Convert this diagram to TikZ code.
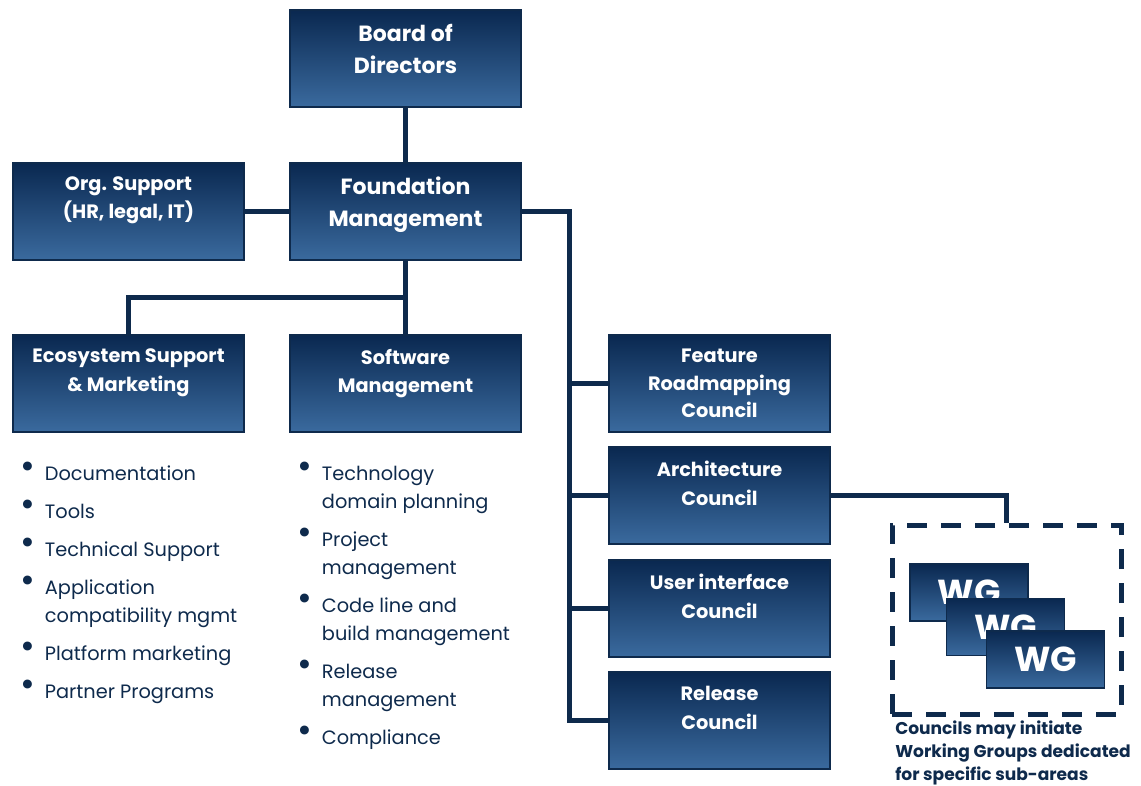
\documentclass[tikz,border=0pt]{standalone}
\usepackage{fontspec}
\setmainfont{Poppins}
\usetikzlibrary{positioning}
\definecolor{navy}{HTML}{0E2A4C}
\definecolor{boxtop}{HTML}{0A2850}
\definecolor{boxbot}{HTML}{3A6A9E}
\newcommand{\bul}{\makebox[17pt][l]{\hspace*{-1pt}\smash{\raisebox{1.5pt}{\fontsize{27}{0}\selectfont\textbullet}}}}
\newcommand{\ind}{\hspace*{17pt}}

\begin{document}
\begin{tikzpicture}[x=0.75pt,y=-0.75pt,
	orgbox/.style={rectangle,draw=navy,line width=1.2pt,top color=boxtop,bottom color=boxbot,minimum width=173.25pt,minimum height=72.75pt,inner sep=0pt},
	council/.style={orgbox,minimum width=165.75pt},
	wgbox/.style={orgbox,minimum width=88.5pt,minimum height=42.75pt,text=white,font=\fontsize{26}{26}\selectfont\bfseries},
	boxtext/.style={anchor=north,yshift=-11pt,inner sep=0pt,text=white,align=center,font=\fontsize{14.5}{22}\selectfont\bfseries},
	link/.style={draw=navy,line width=3.75pt},
	listtext/.style={anchor=north west,inner sep=0pt,align=left,text=navy,font=\fontsize{14.5}{21}\selectfont}]
	\useasboundingbox (0,0) rectangle (1141,785);
	% top of the tree
	\node[orgbox, label={[boxtext,font=\fontsize{16.5}{24}\selectfont\bfseries]north:{Board of\\Directors}}] (board) at (405.5,58.5) {};
	\node[orgbox, label={[boxtext,font=\fontsize{16.5}{24}\selectfont\bfseries]north:{Foundation\\Management}}] (found) at (405.5,211.5) {};
	\node[orgbox, label={[boxtext,font=\fontsize{14.5}{21}\selectfont\bfseries]north:{Org. Support\\(HR, legal, IT)}}] (org) at (128.5,211.5) {};
	\node[orgbox, label={[boxtext,font=\fontsize{14.5}{21.5}\selectfont\bfseries]north:{Ecosystem Support\\\& Marketing}}] (eco) at (128.5,383.5) {};
	\node[orgbox, label={[boxtext,font=\fontsize{14.5}{21.5}\selectfont\bfseries]north:{Software\\Management}}] (soft) at (405.5,383.5) {};
	% councils
	\node[council, label={[boxtext,font=\fontsize{14.5}{20.5}\selectfont\bfseries]north:{Feature\\Roadmapping\\Council}}] (feat) at (719.5,383.5) {};
	\node[council, label={[boxtext]north:{Architecture\\Council}}] (arch) at (719.5,495.5) {};
	\node[council, label={[boxtext]north:{User interface\\Council}}] (ui) at (719.5,608.5) {};
	\node[council, label={[boxtext]north:{Release\\Council}}] (rel) at (719.5,720.5) {};
	% working groups
	\node[draw=navy,line width=3.75pt,dash pattern=on 15pt off 10.5pt,minimum width=171.75pt,minimum height=141.75pt,inner sep=0pt] (wgarea) at (1006.5,619.5) {};
	\node[wgbox] (wg1) at (969,592.5) {WG};
	\node[wgbox] (wg2) at (1005.5,627) {WG};
	\node[wgbox] (wg3) at (1045.5,659.5) {WG};
	\node[anchor=north west,inner sep=0pt,align=left,text=navy,font=\fontsize{12.8}{17.25}\selectfont\bfseries] (wgnote) at (895,721) {Councils may initiate\\Working Groups dedicated\\for specific sub-areas};
	% task lists
	\node[listtext] (ecolist) at (22,466) {\bul Documentation\\[7.5pt]\bul Tools\\[7.5pt]\bul Technical Support\\[7.5pt]\bul Application\\\ind compatibility mgmt\\[7.5pt]\bul Platform marketing\\[7.5pt]\bul Partner Programs};
	\node[listtext] (softlist) at (299,466) {\bul Technology\\\ind domain planning\\[7.5pt]\bul Project\\\ind management\\[7.5pt]\bul Code line and\\\ind build management\\[7.5pt]\bul Release\\\ind management\\[7.5pt]\bul Compliance};
	% connectors
	\coordinate (fj) at (405.5,297);
	\coordinate (sp) at (569,211.5);
	\draw[link] (board) -- (found);
	\draw[link] (org) -- (found);
	\draw[link] (found) -- (soft);
	\draw[link] (eco.north) |- (fj);
	\draw[link] (found.east) -| (sp |- rel.west) -- (rel.west);
	\foreach \n in {feat,arch,ui}
		\draw[link] (sp |- \n.west) -- (\n.west);
	\draw[link] (arch.east) -| (wgarea.north);
\end{tikzpicture}
\end{document}
